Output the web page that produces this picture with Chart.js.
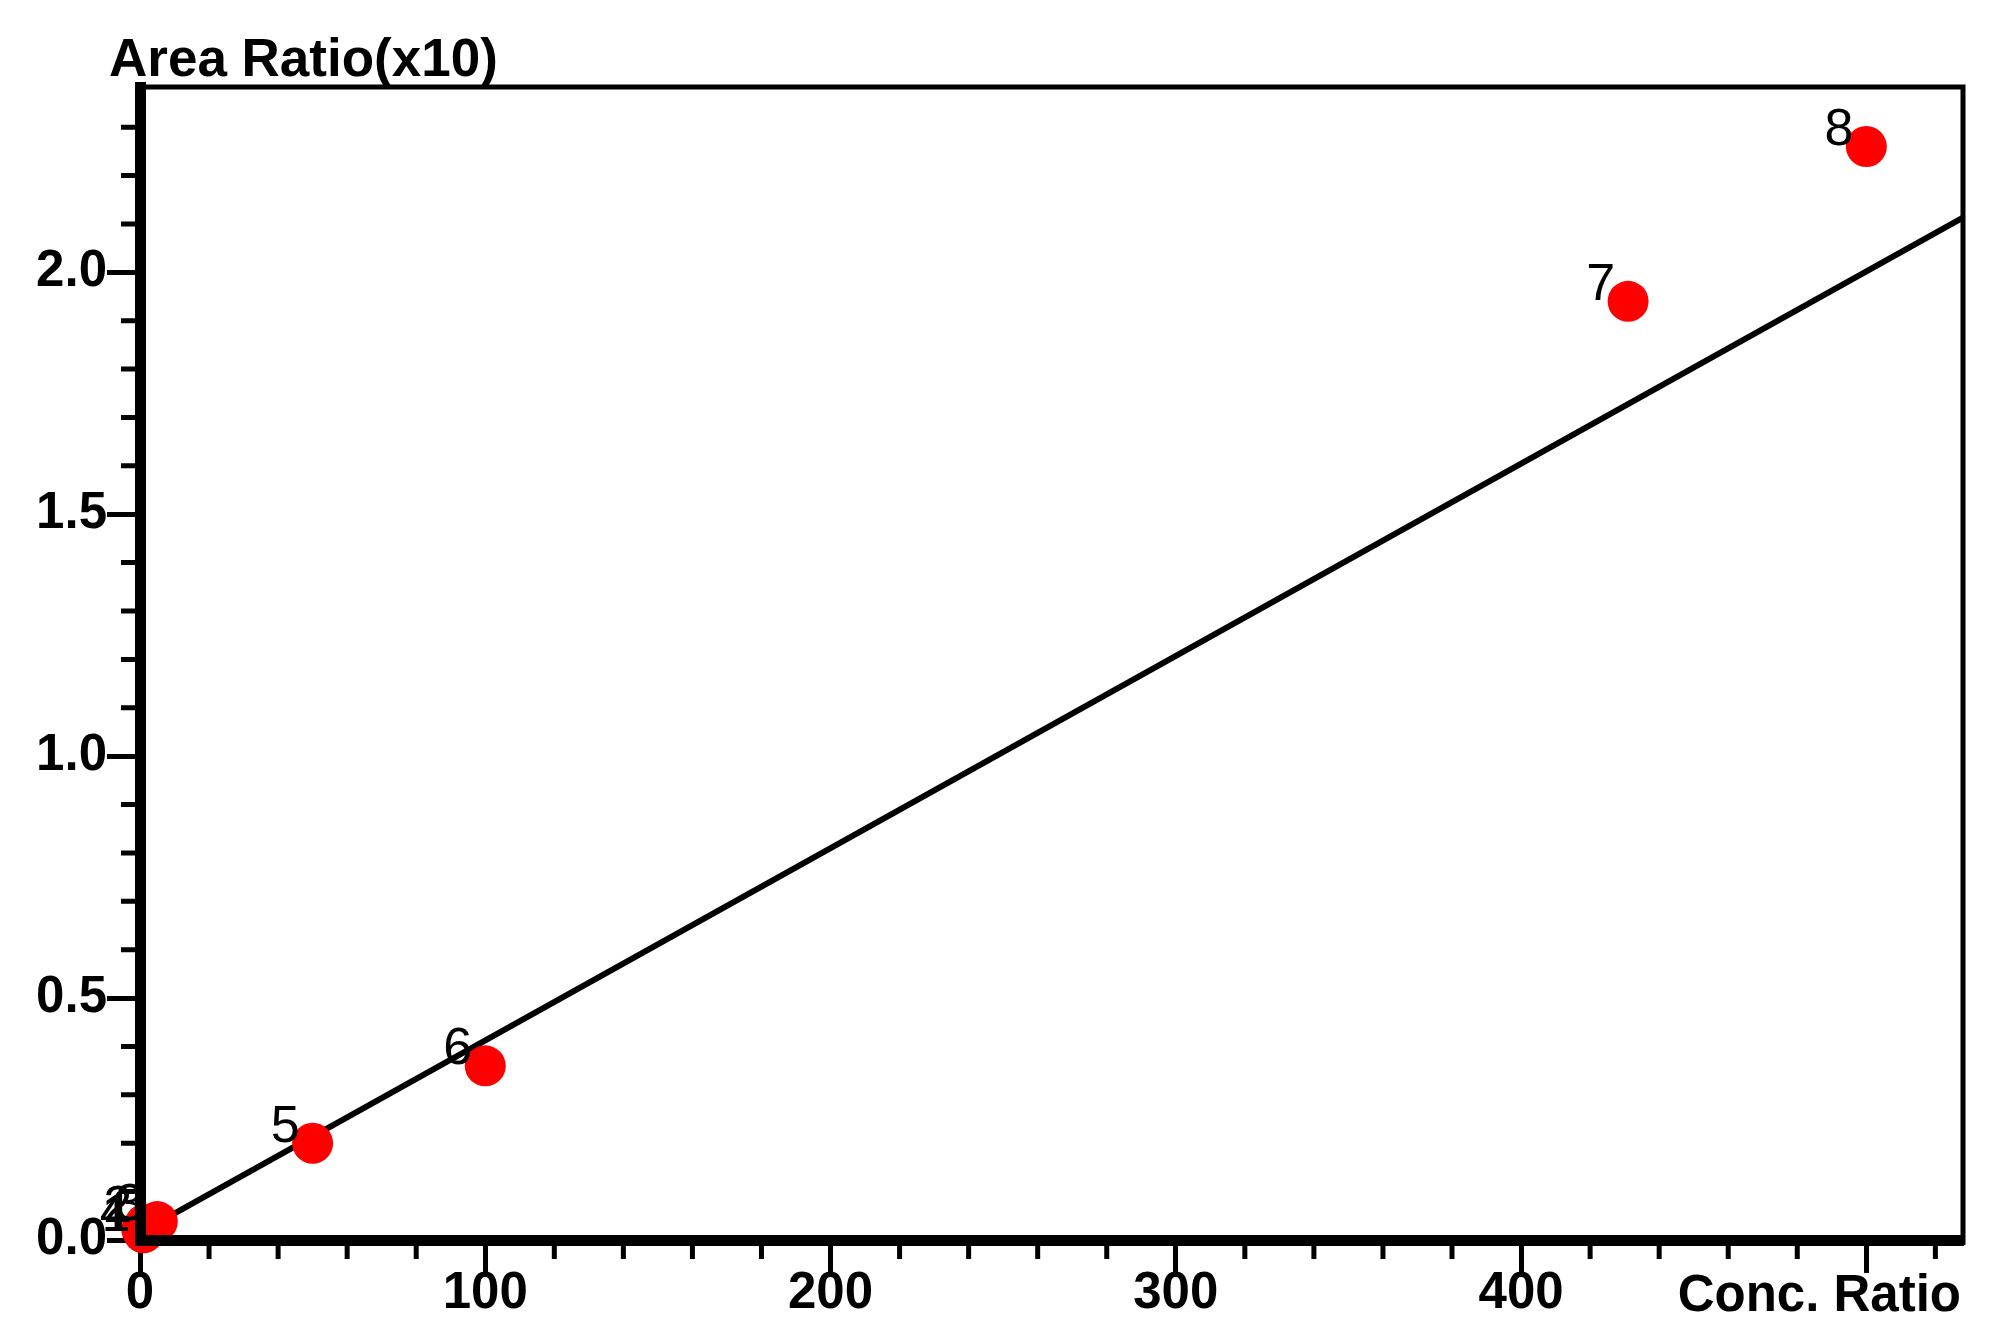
<!DOCTYPE html>
<html>
<head>
<meta charset="utf-8">
<title>Area Ratio vs Conc. Ratio</title>
<script src="https://cdn.jsdelivr.net/npm/chart.js@4.4.1/dist/chart.umd.min.js"></script>
<style>
  html, body { margin: 0; padding: 0; background: #fff; }
  canvas { display: block; }
</style>
</head>
<body>
<canvas id="calChart" width="1998" height="1342"></canvas>
<script>
// calibration points (numbered as in the plot)
const pointLabels = ['1', '2', '3', '4', '5', '6', '7', '8'];
const concRatio = [1, 1.5, 5, 0.5, 50, 100, 431, 500];
const areaRatio = [0.015, 0.033, 0.038, 0.022, 0.2, 0.36, 1.94, 2.26];

// fitted line, ends
const fitX = [0, 528];
const fitY = [0.015, 2.113];

// axes
const xTickValues = [0, 100, 200, 300, 400, 500];
const xTickLabels = ['0', '100', '200', '300', '400', ''];
const yTickValues = [0, 0.5, 1.0, 1.5, 2.0];
const yTickLabels = ['0.0', '0.5', '1.0', '1.5', '2.0'];
const xMax = 528;
const yMax = 2.383;
const xMinorStep = 20;
const yMinorStep = 0.1;

const FONT = '"Liberation Sans", Arial, sans-serif';

// top/right frame, minor ticks, point numbers and axis titles
const decorations = {
    id: 'decorations',
    afterDraw(chart) {
        const { ctx, chartArea: a, scales: { x, y } } = chart;
        ctx.save();
        ctx.strokeStyle = '#000';
        ctx.fillStyle = '#000';

        ctx.lineWidth = 5;
        ctx.beginPath();
        ctx.moveTo(a.left, a.top);
        ctx.lineTo(a.right, a.top);
        ctx.lineTo(a.right, a.bottom + 5);
        ctx.stroke();

        // minor ticks
        ctx.beginPath();
        for (let v = xMinorStep; v < xMax; v += xMinorStep) {
            if (v % 100 === 0) continue;
            const px = x.getPixelForValue(v);
            ctx.moveTo(px, a.bottom);
            ctx.lineTo(px, a.bottom + 19);
        }
        for (let i = 1; i * yMinorStep < yMax; i++) {
            if (i % 5 === 0) continue;
            const py = y.getPixelForValue(i * yMinorStep);
            ctx.moveTo(a.left - 19, py);
            ctx.lineTo(a.left, py);
        }
        ctx.stroke();

        // point numbers
        ctx.font = '52px ' + FONT;
        ctx.textAlign = 'right';
        ctx.textBaseline = 'middle';
        chart.getDatasetMeta(0).data.forEach((pt, i) => {
            ctx.fillText(pointLabels[i], pt.x - 13, pt.y - 16);
        });

        // axis titles
        ctx.font = 'bold 53px ' + FONT;
        ctx.textBaseline = 'alphabetic';
        ctx.textAlign = 'left';
        ctx.fillText('Area Ratio(x10)', 109, 76);
        ctx.font = 'bold 51px ' + FONT;
        ctx.textAlign = 'right';
        ctx.fillText('Conc. Ratio', a.right - 2, 1311);
        ctx.restore();
    }
};

const ctx = document.getElementById('calChart').getContext('2d');
const calChart = new Chart(ctx, {
    type: 'scatter',
    data: {
        datasets: [{
            label: 'Standards',
            data: concRatio.map((c, i) => ({ x: c, y: areaRatio[i] })),
            backgroundColor: '#ff0000',
            borderWidth: 0,
            pointRadius: 20.5,
            pointHoverRadius: 20.5,
            clip: false
        }, {
            label: 'Fit',
            data: fitX.map((c, i) => ({ x: c, y: fitY[i] })),
            showLine: true,
            borderColor: '#000',
            borderWidth: 6,
            pointRadius: 0,
            pointHoverRadius: 0
        }]
    },
    options: {
        responsive: false,
        devicePixelRatio: 1,
        animation: false,
        layout: { padding: { top: 87, right: 35, bottom: 0, left: 0 } },
        plugins: {
            legend: { display: false },
            tooltip: { enabled: false }
        },
        scales: {
            x: {
                type: 'linear',
                min: 0,
                max: xMax,
                afterFit: s => { s.height = 102; },
                afterBuildTicks: s => { s.ticks = xTickValues.map(v => ({ value: v })); },
                border: { display: true, color: '#000', width: 11, z: 1 },
                grid: {
                    drawOnChartArea: false,
                    drawTicks: true,
                    tickLength: 33,
                    tickWidth: 5,
                    tickColor: '#000'
                },
                ticks: {
                    autoSkip: false,
                    maxRotation: 0,
                    padding: -10,
                    color: '#000',
                    font: { family: FONT, size: 51, weight: 'bold' },
                    callback: (v, i) => xTickLabels[i]
                }
            },
            y: {
                type: 'linear',
                min: 0,
                max: yMax,
                afterFit: s => { s.width = 140; },
                afterBuildTicks: s => { s.ticks = yTickValues.map(v => ({ value: v })); },
                border: { display: true, color: '#000', width: 11, z: 1 },
                grid: {
                    drawOnChartArea: false,
                    drawTicks: true,
                    tickLength: 33,
                    tickWidth: 5,
                    tickColor: '#000'
                },
                ticks: {
                    autoSkip: false,
                    padding: 0,
                    color: '#000',
                    font: { family: FONT, size: 51, weight: 'bold' },
                    callback: (v, i) => yTickLabels[i]
                }
            }
        }
    },
    plugins: [decorations]
});
</script>
</body>
</html>
